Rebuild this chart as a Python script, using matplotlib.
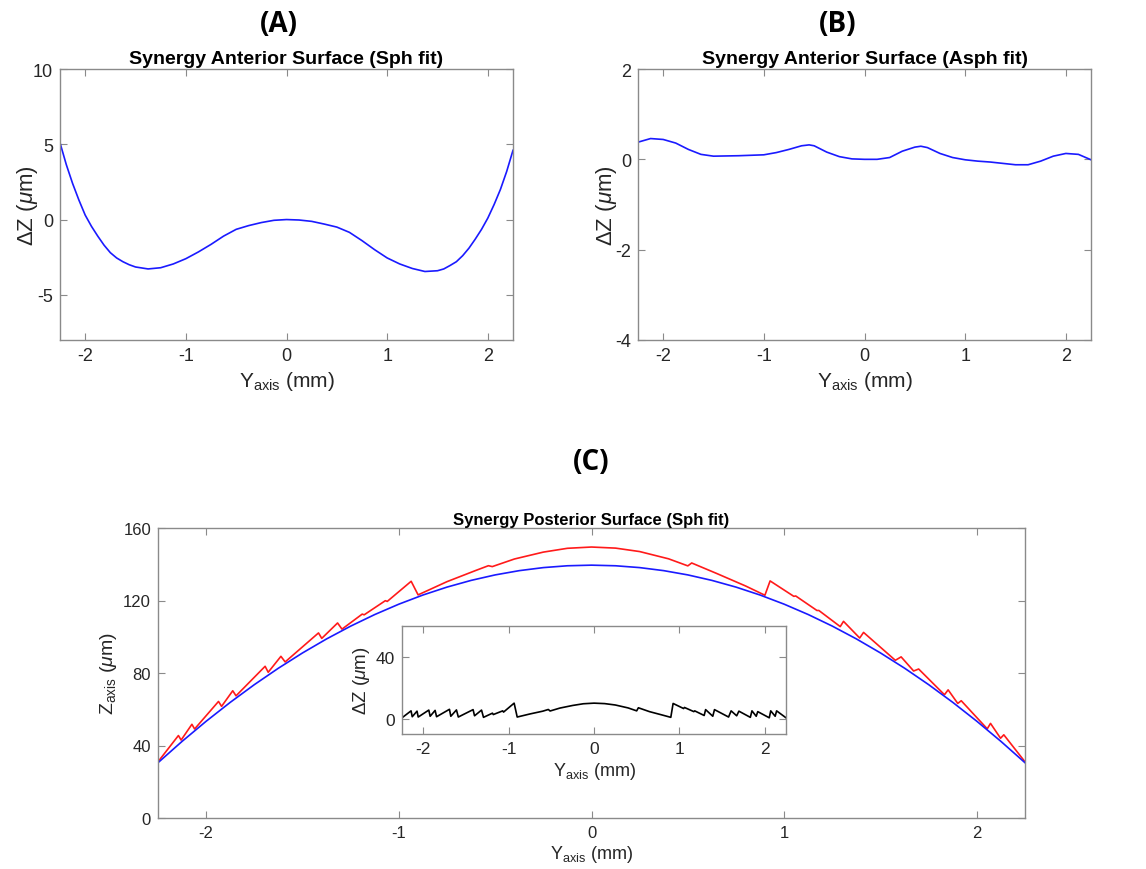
import numpy as np
import matplotlib
matplotlib.use("Agg")
import matplotlib.pyplot as plt

plt.rcParams['font.family'] = ['Liberation Sans', 'DejaVu Sans']
plt.rcParams['mathtext.fontset'] = 'custom'
plt.rcParams['mathtext.rm'] = 'Liberation Sans'
plt.rcParams['mathtext.it'] = 'Liberation Sans:italic'
plt.rcParams['mathtext.bf'] = 'Liberation Sans:bold'
plt.rcParams['axes.unicode_minus'] = False

# ---------------- Panel A: anterior surface, spherical fit residual ----------------
ya = [-2.25, -2.1875, -2.125, -2.0625, -2.0, -1.9375, -1.875, -1.8125, -1.75, -1.6875,
      -1.625, -1.5625, -1.5, -1.375, -1.25, -1.125, -1.0,
      -0.875, -0.75, -0.625, -0.5, -0.375, -0.25, -0.125, 0.0, 0.125, 0.25, 0.375, 0.5,
      0.625, 0.75, 0.875, 1.0, 1.125, 1.25, 1.375, 1.5, 1.5625, 1.625, 1.6875, 1.75,
      1.8125, 1.875, 1.9375, 2.0, 2.0625, 2.125, 2.1875, 2.25]
dza = [5.1, 3.65, 2.4, 1.3, 0.3, -0.45, -1.1, -1.7, -2.2, -2.55,
       -2.8, -3.0, -3.15, -3.28, -3.2, -2.95, -2.6,
       -2.15, -1.65, -1.1, -0.65, -0.4, -0.2, -0.05, 0.0, -0.03, -0.12, -0.3, -0.5,
       -0.85, -1.4, -2.0, -2.55, -2.95, -3.25, -3.45, -3.4, -3.28, -3.05, -2.8, -2.4,
       -1.9, -1.3, -0.65, 0.1, 1.0, 2.0, 3.2, 4.6]

# ---------------- Panel B: anterior surface, aspherical fit residual ----------------
yb = [-2.25, -2.125, -2.0, -1.875, -1.75, -1.625, -1.5, -1.25, -1.0, -0.875, -0.75,
      -0.625, -0.55, -0.5, -0.375, -0.25, -0.125, 0.0, 0.125, 0.25, 0.375, 0.5, 0.56,
      0.625, 0.75, 0.875, 1.0, 1.125, 1.25, 1.375, 1.5, 1.625, 1.75, 1.875, 2.0, 2.125, 2.25]
dzb = [0.38, 0.46, 0.44, 0.36, 0.22, 0.11, 0.07, 0.08, 0.10, 0.15, 0.22,
       0.30, 0.32, 0.30, 0.16, 0.06, 0.01, 0.0, 0.0, 0.04, 0.18, 0.27, 0.29,
       0.26, 0.13, 0.04, -0.01, -0.04, -0.06, -0.09, -0.12, -0.12, -0.04, 0.07, 0.13, 0.11, -0.01]

# ---------------- Panel C: posterior surface ----------------
# spherical fit (blue)
yfit = [-2.25, -2.125, -2.0, -1.875, -1.75, -1.625, -1.5, -1.375, -1.25, -1.125, -1.0,
        -0.875, -0.75, -0.625, -0.5, -0.375, -0.25, -0.125, 0.0, 0.125, 0.25, 0.375, 0.5,
        0.625, 0.75, 0.875, 1.0, 1.125, 1.25, 1.375, 1.5, 1.625, 1.75, 1.875, 2.0, 2.125, 2.25]
zfit = [30.5, 42.28, 53.38, 63.81, 73.57, 82.65, 91.06, 98.80, 105.86, 112.25, 117.97,
        123.02, 127.39, 131.09, 134.12, 136.47, 138.15, 139.16, 139.5, 139.16, 138.15, 136.47, 134.12,
        131.09, 127.39, 123.02, 117.97, 112.25, 105.86, 98.80, 91.06, 82.65, 73.57, 63.81, 53.38, 42.28, 30.5]

# measured profile (red) and residual (black, inset) at the same positions
ymeas = [-2.25, -2.144, -2.130, -2.074, -2.060, -1.936, -1.920, -1.862, -1.845, -1.694,
         -1.678, -1.612, -1.590, -1.417, -1.400, -1.318, -1.295, -1.190, -1.180, -1.070,
         -1.060, -0.936, -0.900, -0.750, -0.600, -0.535, -0.515, -0.400, -0.250, -0.125,
         0.0, 0.125, 0.25, 0.40, 0.500, 0.520, 0.650, 0.800, 0.900, 0.927,
         1.050, 1.060, 1.170, 1.180, 1.291, 1.308, 1.392, 1.412, 1.577, 1.607,
         1.672, 1.698, 1.832, 1.851, 1.901, 1.919, 2.054, 2.071, 2.123, 2.140, 2.25]
zmeas = [31.0, 45.5, 43.0, 51.7, 49.1, 64.3, 61.6, 70.2, 67.4, 83.7,
         80.4, 89.2, 86.1, 102.1, 99.1, 107.6, 104.2, 112.5, 112.1, 119.9,
         119.5, 130.6, 123.1, 130.4, 136.6, 139.2, 138.7, 142.9, 146.7, 148.8,
         149.5, 148.9, 147.0, 143.0, 139.1, 140.7, 134.9, 128.0, 122.9, 130.8,
         122.3, 122.5, 114.5, 114.5, 105.6, 108.5, 99.3, 102.4, 87.0, 88.9,
         81.1, 82.2, 68.0, 70.7, 63.2, 64.7, 49.2, 52.2, 44.0, 45.9, 31.0]
dzc = [0.5, 5.0, 1.2, 4.8, 1.0, 5.5, 1.5, 5.3, 1.2, 6.0,
       1.5, 5.6, 1.0, 5.8, 1.8, 5.5, 0.8, 3.5, 2.6, 5.0,
       4.2, 10.0, 1.0, 3.0, 4.8, 5.9, 4.9, 6.8, 8.5, 9.6,
       10.0, 9.7, 8.8, 6.9, 5.0, 7.0, 4.5, 2.3, 0.8, 9.8,
       6.5, 7.2, 4.5, 5.0, 2.0, 5.8, 1.5, 5.8, 1.0, 5.0,
       1.8, 4.8, 0.8, 5.0, 1.5, 4.5, 0.5, 5.0, 1.5, 5.0, 0.5]

xticks = [-2, -1, 0, 1, 2]
ticks_a = [-5, 0, 5, 10]
ticks_b = [-4, -2, 0, 2]
ticks_c = [0, 40, 80, 120, 160]
ticks_inset = [0, 40]

SPINE = '#8a8a8a'
TXT = '#262626'
BLUE = '#1a1aff'
RED = '#ff1a1a'

W, H = 1146, 870
fig = plt.figure(figsize=(W / 100, H / 100), dpi=100)


def rect(l, t, r, b):
    return [l / W, 1 - b / H, (r - l) / W, (b - t) / H]


def style(ax, fs):
    for s in ax.spines.values():
        s.set_color(SPINE)
        s.set_linewidth(1.0)
    ax.tick_params(direction='in', top=True, right=True, length=5, width=0.8,
                   color=SPINE, labelcolor=TXT, labelsize=fs, pad=5)


xlab = r'Y$_{\mathrm{axis}}$ (mm)'
dzlab = r'$\Delta$Z ($\mu$m)'

# Panel A
axA = fig.add_axes(rect(60, 70, 513, 341))
axA.plot(ya, dza, color=BLUE, lw=1.2)
axA.set_xlim(-2.25, 2.25)
axA.set_ylim(-8, 10)
axA.set_xticks(xticks)
axA.set_yticks(ticks_a)
style(axA, 13)
axA.set_xlabel(xlab, fontsize=15, color=TXT, labelpad=4)
axA.set_ylabel(dzlab, fontsize=16, color=TXT, labelpad=-5)
axA.set_title('Synergy Anterior Surface (Sph fit)', fontsize=14, fontweight='bold', pad=4)

# Panel B
axB = fig.add_axes(rect(638, 70, 1091, 341))
axB.plot(yb, dzb, color=BLUE, lw=1.2)
axB.set_xlim(-2.25, 2.25)
axB.set_ylim(-4, 2)
axB.set_xticks(xticks)
axB.set_yticks(ticks_b)
style(axB, 13)
axB.set_xlabel(xlab, fontsize=15, color=TXT, labelpad=4)
axB.set_ylabel(dzlab, fontsize=16, color=TXT, labelpad=-3)
axB.set_title('Synergy Anterior Surface (Asph fit)', fontsize=14, fontweight='bold', pad=4)

# Panel C
axC = fig.add_axes(rect(158, 529, 1025, 819))
axC.plot(ymeas, zmeas, color=RED, lw=1.2)
axC.plot(yfit, zfit, color=BLUE, lw=1.2)
axC.set_xlim(-2.25, 2.25)
axC.set_ylim(0, 160)
axC.set_xticks(xticks)
axC.set_yticks(ticks_c)
style(axC, 12)
axC.set_xlabel(xlab, fontsize=13, color=TXT, labelpad=2)
axC.set_ylabel(r'Z$_{\mathrm{axis}}$ ($\mu$m)', fontsize=14, color=TXT, labelpad=3)
axC.set_title('Synergy Posterior Surface (Sph fit)', fontsize=12, fontweight='bold', pad=3)

# Inset
axI = fig.add_axes(rect(402, 627, 786, 735))
axI.plot(ymeas, dzc, color='black', lw=1.2)
axI.set_xlim(-2.25, 2.25)
axI.set_ylim(-10, 60)
axI.set_xticks(xticks)
axI.set_yticks(ticks_inset)
style(axI, 12.5)
axI.set_xlabel(xlab, fontsize=13, color=TXT, labelpad=3)
axI.set_ylabel(dzlab, fontsize=13.5, color=TXT, labelpad=3)

# Panel letters
letter_font = dict(fontsize=20, fontweight='bold', family=['Open Sans', 'DejaVu Sans'],
                   ha='center', va='center')
fig.text(279 / W, 1 - 25 / H, '(A)', **letter_font)
fig.text(838 / W, 1 - 25 / H, '(B)', **letter_font)
fig.text(591 / W, 1 - 463 / H, '(C)', **letter_font)

fig.savefig('out.png', dpi=100)
